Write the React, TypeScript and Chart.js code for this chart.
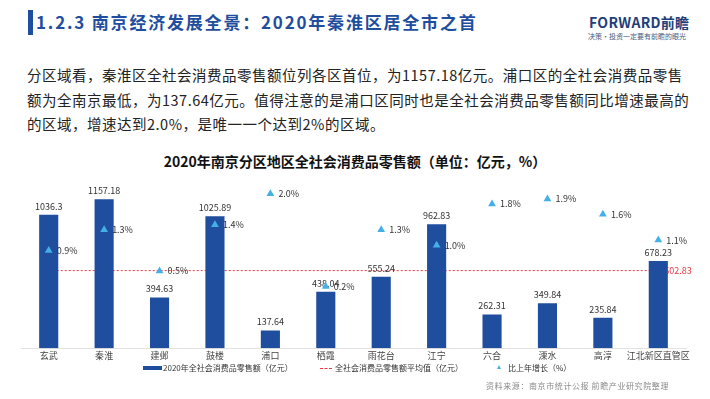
import React, { useEffect, useRef } from "react";
import { Chart, registerables } from "chart.js";

Chart.register(...registerables);

const categories = ["玄武", "秦淮", "建邺", "鼓楼", "浦口", "栖霞", "雨花台", "江宁", "六合", "溧水", "高淳", "江北新区直管区"];
const sales = [1036.3, 1157.18, 394.63, 1025.89, 137.64, 438.04, 555.24, 962.83, 262.31, 349.84, 235.84, 678.23];
const growth = [0.9, 1.3, 0.5, 1.4, 2.0, 0.2, 1.3, 1.0, 1.8, 1.9, 1.6, 1.1];
const averageValue = 602.83;

const salesLabel = "2020年全社会消费品零售额（亿元）";
const avgLabel = "全社会消费品零售额平均值（亿元）";
const growthLabel = "比上年增长（%）";

const BAR = "#1f4e9e";
const TRI = "#45b0e6";
const RED = "#ee3a40";
const FONT = "'Noto Sans CJK SC', 'Noto Sans', sans-serif";

const labelPlugin = {
  id: "valueLabels",
  afterDatasetDraw(chart: any, args: any) {
    const ctx = chart.ctx;
    const ds = chart.data.datasets[args.index];
    const els = args.meta.data;
    ctx.save();
    if (ds.label === avgLabel) {
      const last = els[els.length - 1];
      ctx.fillStyle = RED;
      ctx.font = `9px ${FONT}`;
      ctx.textAlign = "left";
      ctx.textBaseline = "middle";
      ctx.fillText(averageValue.toFixed(2), last.x + 6, last.y);
    } else if (ds.label === salesLabel) {
      ctx.fillStyle = "#333";
      ctx.font = `9px ${FONT}`;
      ctx.textAlign = "center";
      ctx.textBaseline = "bottom";
      els.forEach((el: any, i: number) => {
        ctx.fillText(String(sales[i]), el.x, el.y - 4);
      });
    } else if (ds.label === growthLabel) {
      ctx.fillStyle = "#333";
      ctx.font = `9px ${FONT}`;
      ctx.textAlign = "left";
      ctx.textBaseline = "middle";
      els.forEach((el: any, i: number) => {
        ctx.fillText(growth[i].toFixed(1) + "%", el.x + 8, el.y);
      });
    }
    ctx.restore();
  },
};

function ChartBox() {
  const ref = useRef<HTMLCanvasElement | null>(null);
  useEffect(() => {
    if (!ref.current) return;
    const chart = new Chart(ref.current, {
      type: "bar",
      data: {
        labels: categories,
        datasets: [
          {
            type: "line",
            label: growthLabel,
            data: growth,
            yAxisID: "y1",
            showLine: false,
            pointStyle: "triangle",
            pointRadius: 4.5,
            pointBackgroundColor: TRI,
            pointBorderColor: TRI,
            pointBorderWidth: 0,
            order: 0,
          } as any,
          {
            type: "bar",
            label: salesLabel,
            data: sales,
            yAxisID: "y",
            backgroundColor: BAR,
            categoryPercentage: 1,
            barPercentage: 0.345,
            order: 1,
          } as any,
          {
            type: "line",
            label: avgLabel,
            data: categories.map(() => averageValue),
            yAxisID: "y",
            borderColor: RED,
            borderWidth: 1,
            borderDash: [2, 2],
            pointRadius: 0,
            fill: false,
            order: 2,
          } as any,
        ],
      },
      options: {
        animation: false,
        responsive: false,
        maintainAspectRatio: false,
        layout: { padding: { left: 21, right: 24, top: 18, bottom: 0 } },
        plugins: {
          legend: { display: false },
          tooltip: { enabled: false },
          title: { display: false },
        },
        scales: {
          x: {
            grid: { display: false, drawTicks: false },
            border: { display: true, color: "#e2e2e2", width: 1 },
            ticks: { color: "#444", font: { size: 9, family: FONT }, padding: 2, autoSkip: false, maxRotation: 0 },
          },
          y: { display: false, min: 0, max: 1400 },
          y1: { display: false, min: -1, max: 2.5, position: "right" },
        },
      },
      plugins: [labelPlugin],
    });
    return () => chart.destroy();
  }, []);
  return <canvas ref={ref} width={710} height={213} style={{ display: "block", width: 710, height: 213 }} />;
}

const abs = (s: React.CSSProperties): React.CSSProperties => ({ position: "absolute", whiteSpace: "nowrap", ...s });

export default function App() {
  return (
    <div style={{ position: "absolute", left: 0, top: 0, width: 710, height: 399, background: "#fff", overflow: "hidden", fontFamily: FONT }}>
      <div style={abs({ left: 28, top: 10, width: 5, height: 25, background: BAR })} />
      <div style={abs({ left: 36, top: 11, fontSize: 17, fontWeight: 700, color: BAR, lineHeight: "22px", letterSpacing: 1.8 })}>
        1.2.3 南京经济发展全景：2020年秦淮区居全市之首
      </div>
      <div style={abs({ left: 589, top: 14, fontSize: 14, fontWeight: 700, color: "#1f3f7a", lineHeight: "16px", letterSpacing: 0.3 })}>
        FORWARD前瞻
      </div>
      <div style={abs({ left: 588, top: 32, fontSize: 7, color: "#4a5a7a", lineHeight: "8px" })}>
        决策·投资一定要有前瞻的眼光
      </div>
      <div style={abs({ left: 27, top: 63, fontSize: 14.5, color: "#222", lineHeight: "24.5px", letterSpacing: 0.5 })}>
        <div>分区域看，秦淮区全社会消费品零售额位列各区首位，为1157.18亿元。浦口区的全社会消费品零售</div>
        <div>额为全南京最低，为137.64亿元。值得注意的是浦口区同时也是全社会消费品零售额同比增速最高的</div>
        <div>的区域，增速达到2.0%，是唯一一个达到2%的区域。</div>
      </div>
      <div style={abs({ left: 0, width: 710, top: 152, textAlign: "center", fontSize: 14, fontWeight: 700, color: "#111", lineHeight: "18px" })}>
        2020年南京分区地区全社会消费品零售额（单位：亿元，%）
      </div>
      <div style={abs({ left: 0, top: 150, width: 710, height: 213 })}>
        <ChartBox />
      </div>
      <div style={abs({ left: 143, top: 366, width: 19, height: 4, background: BAR })} />
      <div style={abs({ left: 163, top: 362, fontSize: 8, color: "#333", lineHeight: "12px" })}>{salesLabel}</div>
      <div style={abs({ left: 320, top: 368, width: 12, height: 0, borderTop: `1px dashed ${RED}` })} />
      <div style={abs({ left: 335, top: 362, fontSize: 8, color: "#333", lineHeight: "12px" })}>{avgLabel}</div>
      <div style={abs({ left: 497, top: 365, width: 0, height: 0, borderLeft: "2.5px solid transparent", borderRight: "2.5px solid transparent", borderBottom: `4px solid ${TRI}` })} />
      <div style={abs({ left: 508, top: 362, fontSize: 8, color: "#333", lineHeight: "12px" })}>{growthLabel}</div>
      <div style={abs({ left: 486, top: 380, fontSize: 8, color: "#8a8a8a", lineHeight: "11px", letterSpacing: 0.6 })}>
        资料来源：南京市统计公报 前瞻产业研究院整理
      </div>
    </div>
  );
}
